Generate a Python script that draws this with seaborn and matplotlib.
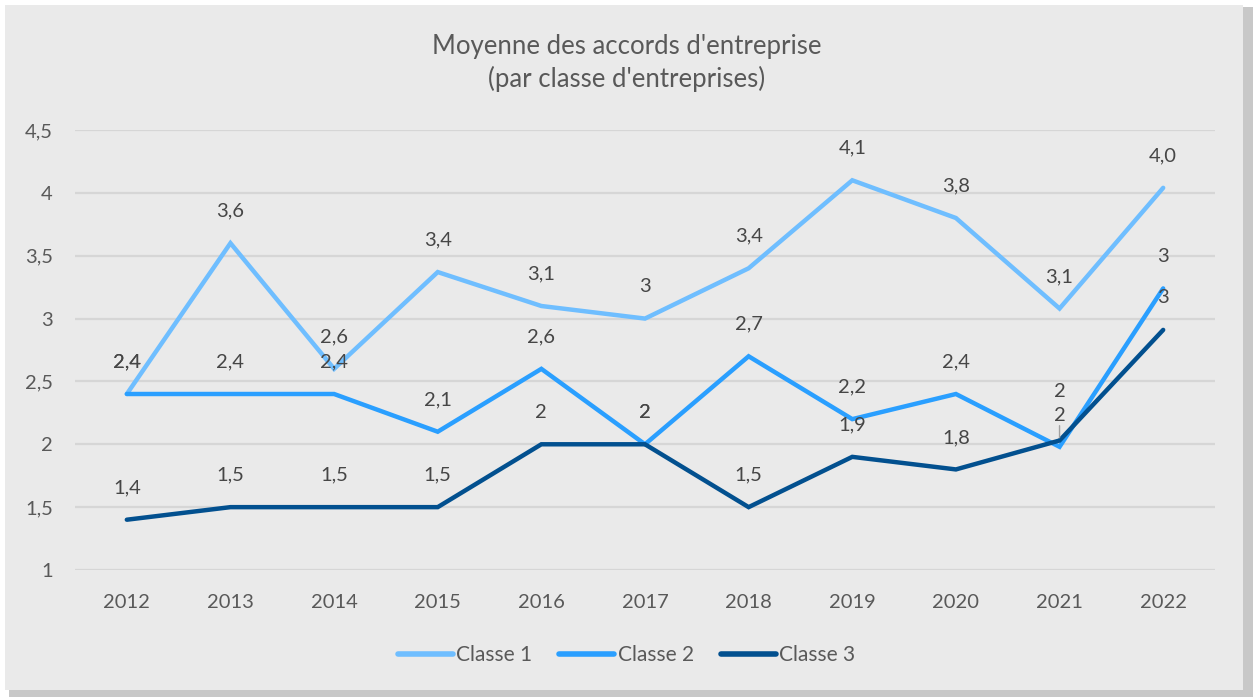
import pandas as pd
import matplotlib.pyplot as plt
import seaborn as sns
from matplotlib.patches import Rectangle

# ── Data ─────────────────────────────────────────────────────
years = ['2012', '2013', '2014', '2015', '2016', '2017',
         '2018', '2019', '2020', '2021', '2022']
classe_1 = [2.4, 3.6, 2.6, 3.37, 3.1, 3.0, 3.4, 4.1, 3.8, 3.08, 4.04]
classe_2 = [2.4, 2.4, 2.4, 2.1, 2.6, 2.0, 2.7, 2.2, 2.4, 1.98, 3.24]
classe_3 = [1.4, 1.5, 1.5, 1.5, 2.0, 2.0, 1.5, 1.9, 1.8, 2.03, 2.91]
labels_1 = ['2,4', '3,6', '2,6', '3,4', '3,1', '3', '3,4', '4,1', '3,8', '3,1', '4,0']
labels_2 = ['2,4', '2,4', '2,4', '2,1', '2,6', '2', '2,7', '2,2', '2,4', '2', '3']
labels_3 = ['1,4', '1,5', '1,5', '1,5', '2', '2', '1,5', '1,9', '1,8', '2', '3']
series_names = ['Classe 1', 'Classe 2', 'Classe 3']
y_ticks = [1, 1.5, 2, 2.5, 3, 3.5, 4, 4.5]
y_tick_labels = ['1', '1,5', '2', '2,5', '3', '3,5', '4', '4,5']

colors = ['#6FBEFF', '#2A9FFF', '#02508F']
text_col = '#595959'
label_col = '#464646'
bg = '#EAEAEA'

df = pd.DataFrame({
    'x': list(range(len(years))) * 3,
    'valeur': classe_1 + classe_2 + classe_3,
    'classe': [n for n in series_names for _ in years],
})

# ── Figure ───────────────────────────────────────────────────
plt.rcParams['font.family'] = ['Lato', 'DejaVu Sans']
fig = plt.figure(figsize=(12.53, 6.97), dpi=100, facecolor='white')
# card with a soft shadow
fig.patches.append(Rectangle((9 / 1253, 0), 1244 / 1253, 690 / 697,
                             transform=fig.transFigure, facecolor='#C8C8C8',
                             edgecolor='none', zorder=-2))
fig.patches.append(Rectangle((5 / 1253, 7 / 697), 1238 / 1253, 685 / 697,
                             transform=fig.transFigure, facecolor=bg,
                             edgecolor='none', zorder=-1))

ax = fig.add_axes([75 / 1253, 1 - 570 / 697, 1140 / 1253, 440 / 697])
ax.set_facecolor(bg)

sns.lineplot(data=df, x='x', y='valeur', hue='classe', palette=colors,
             linewidth=3.2, ax=ax, legend=True)
for line in ax.lines:
    line.set_solid_joinstyle('miter')
    line.set_solid_capstyle('round')

# data labels (above points)
offsets = {(1, 9): 40, (2, 9): 18}
for s, (vals, labs) in enumerate([(classe_1, labels_1), (classe_2, labels_2),
                                  (classe_3, labels_3)]):
    for i, (v, lab) in enumerate(zip(vals, labs)):
        off = offsets.get((s, i), 23)
        ax.annotate(lab, (i, v), xytext=(0, off), textcoords='offset points',
                    ha='center', va='center', fontsize=14.5, color=label_col)
# leader line for the moved label
ax.annotate('', (9, classe_3[9]), xytext=(9, classe_3[9] + 0.14),
            arrowprops=dict(arrowstyle='-', color='#A0A0A0', lw=1))

ax.set_xlim(-0.5, len(years) - 0.5)
ax.set_ylim(1, 4.5)
ax.set_xticks(range(len(years)))
ax.set_xticklabels(years)
ax.set_yticks(y_ticks)
ax.set_yticklabels(y_tick_labels)
ax.set_xlabel('')
ax.set_ylabel('')
ax.tick_params(axis='both', length=0, labelsize=14.5, labelcolor=text_col)
ax.tick_params(axis='y', pad=16)
ax.tick_params(axis='x', pad=17)
ax.grid(axis='y', color='#D6D6D6', linewidth=1.6)
ax.set_axisbelow(True)
for sp in ax.spines.values():
    sp.set_visible(False)

handles, labs = ax.get_legend_handles_labels()
ax.get_legend().remove()
leg = fig.legend(handles, labs, loc='center', bbox_to_anchor=(0.5, 1 - 655 / 697),
                 ncol=3, frameon=False, fontsize=15, handlelength=2.65,
                 handletextpad=0.15, columnspacing=1.3)
for t in leg.get_texts():
    t.set_color(text_col)
for h in leg.legend_handles:
    h.set_linewidth(4)
    h.set_solid_capstyle('round')

fig.text(0.5, 1 - 63 / 697, "Moyenne des accords d'entreprise\n(par classe d'entreprises)",
         ha='center', va='center', fontsize=18.5, color=text_col, linespacing=1.3)

fig.savefig('out.png', dpi=100, facecolor='white')
